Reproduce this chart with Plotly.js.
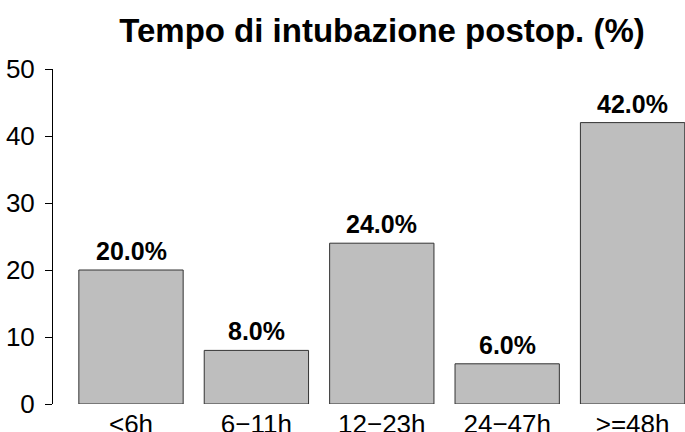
<!DOCTYPE html>
<html>
<head>
<meta charset="utf-8">
<script src="https://cdn.plot.ly/plotly-3.0.1.min.js"></script>
<style>html,body{margin:0;padding:0;background:#fff;}#chart{width:685px;height:432px;}</style>
</head>
<body>
<div id="chart"></div>
<script>
const categories = ["<6h", "6\u221211h", "12\u221223h", "24\u221247h", ">=48h"];
const values = [20, 8, 24, 6, 42];
const yTicks = [0, 10, 20, 30, 40, 50];
const titleText = "Tempo di intubazione postop. (%)";

const labels = values.map(v => v.toFixed(1) + "%");
const FONT = "Liberation Sans, Arial, Helvetica, sans-serif";

const trace = {
  type: "bar",
  x: categories,
  y: values,
  marker: {color: "#bebebe", line: {color: "#333333", width: 1}},
  hoverinfo: "skip"
};

const annotations = categories.map((c, i) => ({
  x: c, y: values[i], xref: "x", yref: "y",
  text: "<b>" + labels[i] + "</b>",
  showarrow: false, yanchor: "bottom", yshift: 3,
  font: {family: FONT, size: 25, color: "#000"}
}));

const layout = {
  width: 685, height: 432,
  margin: {l: 53, r: 0, t: 69, b: 28, pad: 0},
  paper_bgcolor: "#fff", plot_bgcolor: "#fff",
  showlegend: false,
  bargap: 0.168,
  title: {text: "<b>" + titleText + "</b>", x: 382 / 685, xref: "container", xanchor: "center",
          y: 1 - 30 / 432, yref: "container", yanchor: "middle",
          font: {family: FONT, size: 33, color: "#000"}},
  xaxis: {type: "category", range: [-0.622, 4.418], showgrid: false, zeroline: false,
          showline: false, ticks: "", tickfont: {family: FONT, size: 26, color: "#000"},
          ticklabelstandoff: 2, fixedrange: true},
  yaxis: {range: [0, 50], tickvals: yTicks, ticktext: yTicks.map(String),
          showgrid: false, zeroline: false, showline: true, linecolor: "#000", linewidth: 1,
          ticks: "outside", ticklen: 7, tickcolor: "#000", tickwidth: 1,
          ticklabelstandoff: 5,
          tickfont: {family: FONT, size: 26, color: "#000"}, fixedrange: true},
  annotations: annotations
};

Plotly.newPlot("chart", [trace], layout, {staticPlot: true, displayModeBar: false});
</script>
</body>
</html>
